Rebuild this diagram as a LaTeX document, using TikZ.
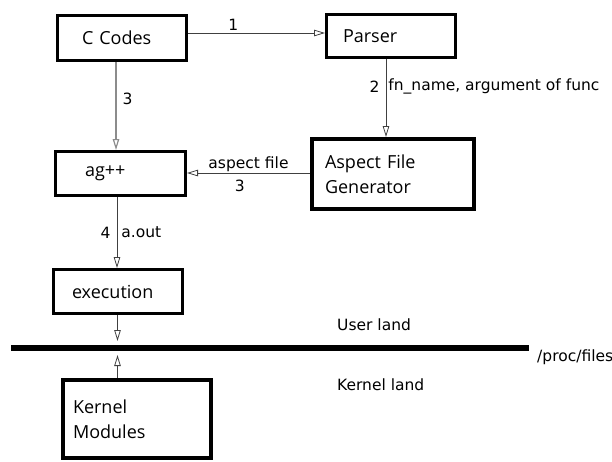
\documentclass[tikz,border=0pt]{standalone}
\usepackage{fontspec}
\setmainfont{Open Sans}
\newfontfamily\labelfont{DejaVu Sans}
\usetikzlibrary{positioning,arrows.meta}

\begin{document}
\begin{tikzpicture}[
    x=1pt, y=-1pt,
    block/.style={rectangle, draw, line width=3pt, align=left, minimum height=44pt, font=\fontsize{18}{25}\selectfont},
    arrow/.style={-{Triangle[open, length=11pt, width=6.5pt]}, draw=black!75, line width=0.8pt},
    lbl/.style={font=\labelfont\fontsize{15.5}{18}\selectfont, inner sep=2pt}
]

\useasboundingbox (0,0) rectangle (612,461);

% Boxes
\node[block, text width=80pt, inner xsep=24.5pt, minimum height=45pt] (ccodes) at (122,38) {C Codes};
\node[block, text width=96pt, inner xsep=16.5pt, minimum height=43pt] (parser) at (391,36) {Parser};
\node[block, line width=4pt, text width=136pt, inner xsep=13pt, minimum height=70pt] (aspect) at (393,174) {Aspect File\\Generator};
\node[block, text width=71pt, inner xsep=29.5pt] (ag) at (120.5,173.5) {ag++};
\node[block, text width=92pt, inner xsep=18.5pt] (exec) at (118,291.5) {execution};
\node[block, line width=4pt, text width=128pt, inner xsep=10pt, minimum height=78pt] (kernel) at (137,419) {Kernel\\Modules};

% Step 1
\draw[arrow] ([yshift=5pt]ccodes.east) -- node[lbl, pos=0.33, above] {1} ([yshift=5pt]ccodes.east -| parser.west);

% Step 2
\draw[arrow] ([xshift=-5pt]parser.south) -- node[lbl, pos=0.35, left=4pt] {2} node[lbl, pos=0.35, right] {fn\_name, argument of func} ([xshift=-5pt]parser.south |- aspect.north);

% Step 3
\draw[arrow, draw=black!45, line width=1.2pt] ([xshift=-6pt]ccodes.south) -- node[lbl, pos=0.42, right=4pt] {3} ([xshift=-6pt]ccodes.south |- ag.north);
\draw[arrow] ([yshift=1pt]aspect.west) -- node[lbl, above, inner sep=1pt] {aspect file} node[lbl, pos=0.57, below=5pt] {3} ([yshift=1pt]aspect.west -| ag.east);

% Step 4
\draw[arrow] ([xshift=-3.5pt]ag.south) -- node[lbl, left=4pt] {4} node[lbl, right=2pt] {a.out} ([xshift=-3.5pt]ag.south |- exec.north);

% /proc boundary
\coordinate (procl) at (11,348);
\coordinate (procr) at (529,348);
\coordinate (procin) at (117.5,341);
\coordinate (procout) at (117.5,355);
\draw[line width=6pt] (procl) -- (procr);
\draw[arrow] (exec.south -| procin) -- (procin);
\draw[arrow] (kernel.north -| procout) -- (procout);

% Labels
\node[lbl, anchor=west] (userland) at (335,325) {User land};
\node[lbl, anchor=west] (kernelland) at (335,385) {Kernel land};
\node[lbl, anchor=west] (procfiles) at (535,357) {/proc/files};

\end{tikzpicture}
\end{document}
